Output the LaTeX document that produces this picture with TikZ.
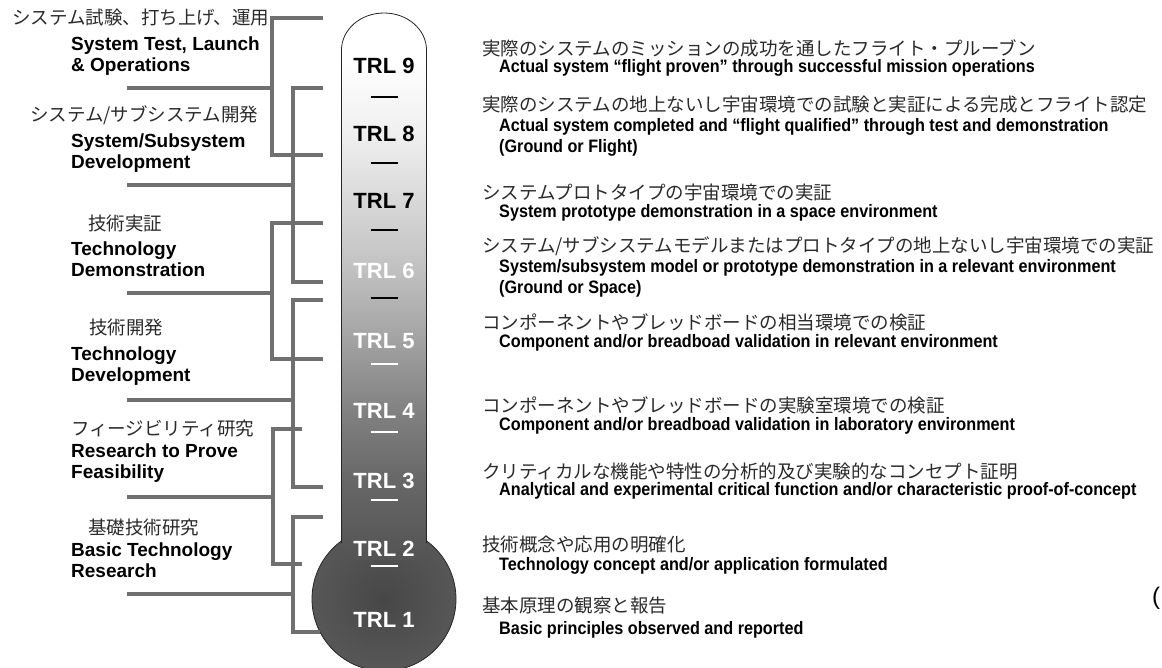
\documentclass[tikz,border=0pt]{standalone}
\usepackage{fontspec}
\setmainfont{Liberation Sans}
\newfontfamily\jpfont{Noto Sans CJK JP}
\newfontfamily\narrowfont{Liberation Sans Bold}[FakeStretch=0.9]

\definecolor{brkgray}{HTML}{707070}
\definecolor{jpgray}{HTML}{2A2A2A}
\definecolor{tb0}{HTML}{545454}
\definecolor{tb1}{HTML}{565656}
\definecolor{tb2}{HTML}{676767}
\definecolor{tb3}{HTML}{818181}
\definecolor{tb4}{HTML}{A2A2A2}
\definecolor{tb5}{HTML}{C0C0C0}
\definecolor{tb6}{HTML}{D8D8D8}
\definecolor{tb7}{HTML}{EFEFEF}
\definecolor{tb8}{HTML}{FFFFFF}
\definecolor{bulbin}{HTML}{474747}
\definecolor{bulbout}{HTML}{575757}

\pgfdeclareverticalshading{thermo}{100bp}{color(0bp)=(tb0); color(25bp)=(tb0);
  color(26bp)=(tb1); color(32.2bp)=(tb2); color(38.6bp)=(tb3); color(45bp)=(tb4);
  color(51.4bp)=(tb5); color(57.8bp)=(tb6); color(63.9bp)=(tb7); color(70.7bp)=(tb8);
  color(75bp)=(tb8); color(100bp)=(tb8)}

\begin{document}
\begin{tikzpicture}[x=1pt,y=-1pt,
  trl/.style={font=\fontsize{22}{22}\selectfont\bfseries,inner sep=0pt},
  jp/.style={font=\fontsize{18.5}{20}\jpfont,text=jpgray,anchor=west,inner sep=0pt},
  grp/.style={font=\fontsize{19}{21}\selectfont\bfseries,align=left,anchor=west,inner sep=0pt},
  en/.style={font=\fontsize{18}{21}\narrowfont,align=left,anchor=west,inner sep=0pt},
  brk/.style={draw=brkgray,line width=3.2pt,line join=miter}]
  \useasboundingbox (0,0) rectangle (1162,667);

  % thermometer
  \node[circle,draw=black!85,line width=0.8pt,minimum size=144pt,inner sep=0pt,
        inner color=bulbin,outer color=bulbout] (bulb) at (384,599) {};
  \shade[shading=thermo] (341.5,560) -- (341.5,50)
    .. controls (341.5,29.6) and (360.5,13) .. (384,13)
    .. controls (407.5,13) and (426.5,29.6) .. (426.5,50) -- (426.5,560) -- cycle;
  \draw[black!85,line width=0.8pt] (341.5,543) -- (341.5,50)
    .. controls (341.5,29.6) and (360.5,13) .. (384,13)
    .. controls (407.5,13) and (426.5,29.6) .. (426.5,50) -- (426.5,543);

  \foreach \n/\y/\c in {9/66/black,8/134/black,7/201/black,6/271/white,
                        5/341/white,4/411/white,3/481/white,2/549/white,1/620/white}
    \node[trl,text=\c] (t\n) at (384,\y) {TRL \n};
  \foreach \y/\c in {97/black,163/black,230/black,298/black,
                     364/white,432/white,500/white,566/white}
    \draw[\c,line width=1.6pt] (370.5,\y) -- (397.5,\y);

  % brackets on the left
  \foreach \g/\ya/\yb/\xv/\xa/\xb/\ym in {1/18/155/272/323/323/88,
      2/88/282/293/323/323/185, 3/223/359/272/323/323/293,
      4/300/487/293/323/323/400, 5/429/564/273/302/302/497,
      6/517/632/293/323/320/594} {
    \coordinate (b\g a) at (\xa,\ya);
    \coordinate (b\g b) at (\xb,\yb);
    \coordinate (b\g v) at (\xv,\ym);
    \coordinate (b\g m) at (127,\ym);
    \draw[brk] (b\g a) -| (b\g v) |- (b\g b);
    \draw[brk] (b\g m) -- (b\g v);
  }

  % phase labels
  \node[jp] (g1j) at (12,18) {システム試験、打ち上げ、運用};
  \node[grp] (g1e) at (71,56) {System Test, Launch\\\& Operations};
  \node[jp] (g2j) at (30,115) {システム/サブシステム開発};
  \node[grp] (g2e) at (71,153) {System/Subsystem\\Development};
  \node[jp] (g3j) at (88,223) {技術実証};
  \node[grp] (g3e) at (71,259) {Technology\\Demonstration};
  \node[jp] (g4j) at (89,328) {技術開発};
  \node[grp] (g4e) at (71,366) {Technology\\Development};
  \node[jp] (g5j) at (71,428) {フィージビリティ研究};
  \node[grp] (g5e) at (71,463) {Research to Prove\\Feasibility};
  \node[jp] (g6j) at (88,527) {基礎技術研究};
  \node[grp] (g6e) at (71,560) {Basic Technology\\Research};

  % level descriptions
  \node[jp] (d9j) at (482,48) {実際のシステムのミッションの成功を通したフライト・プルーブン};
  \node[en] (d9e) at (499,68) {Actual system “flight proven” through successful mission operations};
  \node[jp] (d8j) at (482,105) {実際のシステムの地上ないし宇宙環境での試験と実証による完成とフライト認定};
  \node[en] (d8e) at (499,137.5) {Actual system completed and “flight qualified” through test and demonstration\\(Ground or Flight)};
  \node[jp] (d7j) at (482,192) {システムプロトタイプの宇宙環境での実証};
  \node[en] (d7e) at (499,213) {System prototype demonstration in a space environment};
  \node[jp] (d6j) at (482,246) {システム/サブシステムモデルまたはプロトタイプの地上ないし宇宙環境での実証};
  \node[en] (d6e) at (499,278.5) {System/subsystem model or prototype demonstration in a relevant environment\\(Ground or Space)};
  \node[jp] (d5j) at (482,322) {コンポーネントやブレッドボードの相当環境での検証};
  \node[en] (d5e) at (499,343) {Component and/or breadboad validation in relevant environment};
  \node[jp] (d4j) at (482,405) {コンポーネントやブレッドボードの実験室環境での検証};
  \node[en] (d4e) at (499,426) {Component and/or breadboad validation in laboratory environment};
  \node[jp] (d3j) at (482,471) {クリティカルな機能や特性の分析的及び実験的なコンセプト証明};
  \node[en] (d3e) at (499,491) {Analytical and experimental critical function and/or characteristic proof-of-concept};
  \node[jp] (d2j) at (482,545) {技術概念や応用の明確化};
  \node[en] (d2e) at (499,566) {Technology concept and/or application formulated};
  \node[jp] (d1j) at (482,606) {基本原理の観察と報告};
  \node[en] (d1e) at (499,630) {Basic principles observed and reported};

  \node[font=\fontsize{24}{24}\selectfont,inner sep=0pt] (paren) at (1156,598) {(};
\end{tikzpicture}
\end{document}
